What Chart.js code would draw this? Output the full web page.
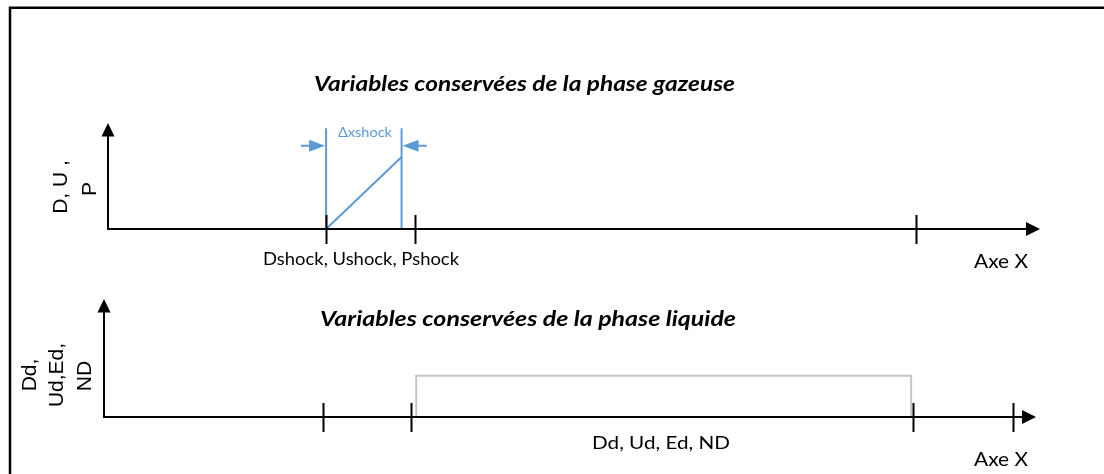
<!DOCTYPE html>
<html>
<head>
<meta charset="utf-8">
<script src="https://cdn.jsdelivr.net/npm/chart.js@4.4.0/dist/chart.umd.min.js"></script>
<style>
  html, body { margin: 0; padding: 0; background: #fff; }
  #wrap { position: relative; width: 1104px; height: 474px; overflow: hidden; }
  canvas { position: absolute; left: 0; top: 0; }
</style>
</head>
<body>
<div id="wrap">
  <canvas id="gas" width="1104" height="474"></canvas>
  <canvas id="liq" width="1104" height="474"></canvas>
</div>
<script>
// Axis units: x runs 0..100 along the arrow, y runs 0..10 up to the arrow tip
const gasTicks = [23.4, 32.9, 86.7];
const liqTicks = [23.5, 32.9, 86.8, 97.5];

// gas phase: shock ramp and the two bounding lines
const shockX = [23.4, 31.5];
const shockY = [0, 6.8];
const shockBoundTop = 9.5;
const dimArrowY = 7.86;
const dimArrowX = [20.7, 34.2];

// liquid phase: constant plateau
const plateauX = [33.5, 33.5, 86.6, 86.6];
const plateauY = [0, 3.5, 3.5, 0];

const BLUE = "#5B9BD5";
const GRAY = "#C6C6C6";
const SANS = "Lato, 'Open Sans', sans-serif";
const ARIAL = "21px 'Liberation Sans', Arial, sans-serif";

function pts(xs, ys) { return xs.map((x, i) => ({ x: x, y: ys[i] })); }

// text at a given size, squeezed horizontally to the measured width (Calibri is narrow)
function drawText(ctx, t) {
  ctx.save();
  ctx.fillStyle = t.color || "#000";
  ctx.textAlign = "center";
  ctx.textBaseline = "middle";
  ctx.font = t.font || ((t.style || "normal") + " " + t.size + "px " + SANS);
  ctx.translate(t.x, t.y);
  if (t.rotate) ctx.rotate(t.rotate);
  if (t.width) ctx.scale(t.width / ctx.measureText(t.text).width, 1);
  ctx.fillText(t.text, 0, 0);
  ctx.restore();
}

function tri(ctx, a, b, c) {
  ctx.beginPath();
  ctx.moveTo(a[0], a[1]); ctx.lineTo(b[0], b[1]); ctx.lineTo(c[0], c[1]);
  ctx.closePath();
  ctx.fill();
}

// draws the two axes with arrowheads, the ticks and the texts
const diagramPlugin = {
  id: "diagram",
  afterDatasetsDraw(chart, args, opts) {
    const ctx = chart.ctx;
    const xs = chart.scales.x, ys = chart.scales.y;
    const x0 = xs.getPixelForValue(0), x1 = xs.getPixelForValue(100);
    const y0 = ys.getPixelForValue(0), y1 = ys.getPixelForValue(10);
    ctx.save();
    ctx.strokeStyle = "#000";
    ctx.fillStyle = "#000";
    ctx.lineWidth = 2;
    ctx.beginPath();
    ctx.moveTo(x0, y1 + 10); ctx.lineTo(x0, y0); ctx.lineTo(x1 - 10, y0);
    ctx.stroke();
    tri(ctx, [x0, y1], [x0 - 6.5, y1 + 13.5], [x0 + 6.5, y1 + 13.5]);
    tri(ctx, [x1, y0], [x1 - 14, y0 - 7], [x1 - 14, y0 + 7]);
    opts.ticks.forEach(v => {
      const px = Math.round(xs.getPixelForValue(v)) + 0.5;
      ctx.beginPath();
      ctx.moveTo(px, y0 - 14); ctx.lineTo(px, y0 + 15);
      ctx.stroke();
    });
    if (opts.dimension) {
      const d = opts.dimension;
      const ay = ys.getPixelForValue(d.y);
      const la = xs.getPixelForValue(d.from), lb = xs.getPixelForValue(d.x[0]);
      const ra = xs.getPixelForValue(d.to), rb = xs.getPixelForValue(d.x[1]);
      ctx.strokeStyle = BLUE; ctx.fillStyle = BLUE; ctx.lineWidth = 2;
      ctx.beginPath();
      ctx.moveTo(la, ay); ctx.lineTo(lb - 14, ay);
      ctx.moveTo(ra, ay); ctx.lineTo(rb + 14, ay);
      ctx.stroke();
      tri(ctx, [lb - 1, ay], [lb - 17, ay - 6], [lb - 17, ay + 6]);
      tri(ctx, [rb + 1, ay], [rb + 17, ay - 6], [rb + 17, ay + 6]);
    }
    ctx.restore();
    opts.texts.forEach(t => drawText(ctx, t));
    if (opts.frame) {
      ctx.save();
      ctx.strokeStyle = "#000"; ctx.lineWidth = 2.5;
      ctx.beginPath();
      ctx.moveTo(10, 480); ctx.lineTo(10, 7.7); ctx.lineTo(1110, 7.7);
      ctx.stroke();
      ctx.restore();
    }
  }
};

const hidden = { display: false };
function baseOptions(pad, plugin) {
  return {
    responsive: false,
    animation: false,
    layout: { padding: pad },
    scales: {
      x: { type: "linear", min: 0, max: 100, display: false },
      y: { type: "linear", min: 0, max: 10, display: false }
    },
    plugins: { legend: hidden, title: hidden, tooltip: { enabled: false }, diagram: plugin }
  };
}

const lineDs = (data, color) => ({
  data: data, borderColor: color, borderWidth: 2, pointRadius: 0,
  fill: false, tension: 0, clip: false, showLine: true
});

new Chart(document.getElementById("gas"), {
  type: "scatter",
  data: {
    datasets: [
      lineDs(pts(shockX, shockY), BLUE),
      lineDs(pts([shockX[0], shockX[0]], [0, shockBoundTop]), BLUE),
      lineDs(pts([shockX[1], shockX[1]], [0, shockBoundTop]), BLUE)
    ]
  },
  options: baseOptions({ left: 108, right: 64, top: 123, bottom: 245 }, {
    ticks: gasTicks,
    frame: true,
    dimension: { y: dimArrowY, x: shockX, from: dimArrowX[0], to: dimArrowX[1] },
    texts: [
      { text: "Variables conservées de la phase gazeuse", x: 524.5, y: 84, size: 20.5, width: 421, style: "italic bold" },
      { text: "Δxshock", x: 365, y: 132, size: 14, width: 54, color: BLUE },
      { text: "Dshock, Ushock, Pshock", x: 361, y: 260, size: 17, width: 196 },
      { text: "Axe X", x: 1001, y: 262, size: 19.5, width: 54 },
      { text: "D, U ,", x: 61, y: 187, font: ARIAL, rotate: -Math.PI / 2 },
      { text: "P", x: 90, y: 189, font: ARIAL, rotate: -Math.PI / 2 }
    ]
  }),
  plugins: [diagramPlugin]
});

new Chart(document.getElementById("liq"), {
  type: "scatter",
  data: {
    datasets: [ lineDs(pts(plateauX, plateauY), GRAY) ]
  },
  options: baseOptions({ left: 104, right: 68, top: 299, bottom: 57 }, {
    ticks: liqTicks,
    texts: [
      { text: "Variables conservées de la phase liquide", x: 528, y: 319, size: 20.5, width: 416, style: "italic bold" },
      { text: "Dd, Ud, Ed, ND", x: 661, y: 444, size: 16.5, width: 138 },
      { text: "Axe X", x: 1001, y: 460, size: 19.5, width: 54 },
      { text: "Dd,", x: 30, y: 375, font: ARIAL, rotate: -Math.PI / 2 },
      { text: "Ud,Ed,", x: 57, y: 375, font: ARIAL, rotate: -Math.PI / 2 },
      { text: "ND", x: 85, y: 376, font: ARIAL, rotate: -Math.PI / 2 }
    ]
  }),
  plugins: [diagramPlugin]
});
</script>
</body>
</html>
